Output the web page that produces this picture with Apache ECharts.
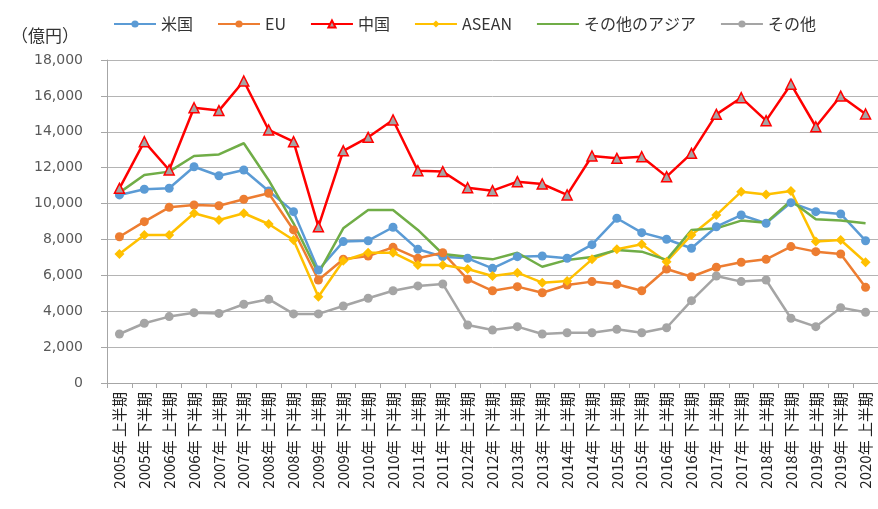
<!DOCTYPE html>
<html>
<head>
<meta charset="utf-8">
<script src="https://cdn.jsdelivr.net/npm/echarts@6/dist/echarts.min.js"></script>
<style>
  html, body { margin: 0; padding: 0; background: #fff; }
  #chart { width: 878px; height: 509px; }
</style>
</head>
<body>
<div id="chart"></div>
<script>
// half-year periods, 2005 H1 .. 2020 H1
const periods = [
  '2005年 上半期', '2005年 下半期', '2006年 上半期', '2006年 下半期',
  '2007年 上半期', '2007年 下半期', '2008年 上半期', '2008年 下半期',
  '2009年 上半期', '2009年 下半期', '2010年 上半期', '2010年 下半期',
  '2011年 上半期', '2011年 下半期', '2012年 上半期', '2012年 下半期',
  '2013年 上半期', '2013年 下半期', '2014年 上半期', '2014年 下半期',
  '2015年 上半期', '2015年 下半期', '2016年 上半期', '2016年 下半期',
  '2017年 上半期', '2017年 下半期', '2018年 上半期', '2018年 下半期',
  '2019年 上半期', '2019年 下半期', '2020年 上半期'
]

// values in 億円
const usa = [10480, 10800, 10850, 12050, 11550, 11870, 10700, 9550, 6300, 7880, 7930, 8680, 7450, 7040, 6950, 6390,
  7040, 7080, 6950, 7710, 9180, 8380, 8010, 7510, 8710, 9360, 8900, 10050, 9550, 9420, 7930]
const eu = [8150, 8990, 9790, 9920, 9880, 10240, 10570, 8530, 5740, 6900, 7080, 7560, 6950, 7260, 5780, 5140,
  5370, 5030, 5460, 5650, 5500, 5140, 6350, 5920, 6450, 6730, 6890, 7600, 7320, 7190, 5330]
const china = [10850, 13450, 11870, 15340, 15180, 16830, 14100, 13450, 8710, 12940, 13690, 14660, 11830, 11780, 10880, 10720,
  11220, 11090, 10480, 12650, 12520, 12610, 11500, 12800, 14970, 15900, 14620, 16650, 14280, 15990, 14990]
const asean = [7190, 8250, 8250, 9460, 9080, 9460, 8860, 7970, 4810, 6810, 7260, 7260, 6580, 6580, 6350, 5960,
  6150, 5590, 5680, 6890, 7450, 7730, 6760, 8250, 9360, 10660, 10510, 10700, 7880, 7970, 6730]
const otherAsia = [10610, 11590, 11780, 12650, 12740, 13360, 11300, 8900, 6110, 8620, 9640, 9640, 8530, 7190, 7040, 6890,
  7260, 6480, 6860, 7020, 7410, 7320, 6860, 8530, 8620, 9050, 8930, 10160, 9120, 9050, 8900]
const others = [2730, 3330, 3700, 3920, 3880, 4390, 4670, 3850, 3850, 4290, 4720, 5140, 5410, 5520, 3230, 2950,
  3140, 2730, 2800, 2800, 2990, 2800, 3080, 4590, 5960, 5650, 5740, 3610, 3140, 4200, 3940]

const yTicks = { min: 0, max: 18000, interval: 2000 }

const jp = '"Noto Sans CJK JP", "Noto Sans", sans-serif'

function line(name, data, color, symbol, size, extra) {
  return Object.assign({
    name: name,
    type: 'line',
    data: data,
    symbol: symbol,
    symbolSize: size,
    showSymbol: symbol !== 'none',
    lineStyle: { color: color, width: 2.5 },
    itemStyle: { color: color },
    emphasis: { disabled: true },
    animation: false
  }, extra || {})
}

const chart = echarts.init(document.getElementById('chart'))

chart.setOption({
  backgroundColor: '#fff',
  title: {
    text: '（億円）',
    left: 6,
    top: 22,
    textStyle: { fontFamily: jp, fontSize: 17, fontWeight: 'normal', color: '#333' }
  },
  legend: {
    left: 108,
    top: 11,
    itemWidth: 42,
    itemHeight: 9,
    itemGap: 24,
    textStyle: { fontFamily: jp, fontSize: 16, color: '#333' },
    data: [
      '米国', 'EU', '中国', 'ASEAN',
      // no marker on this series, so keep the legend icon a plain line
      { name: 'その他のアジア', itemStyle: { color: 'rgba(0,0,0,0)', borderWidth: 0 } },
      'その他'
    ]
  },
  grid: { left: 107, right: 0, top: 60, bottom: 126, containLabel: false },
  xAxis: {
    type: 'category',
    data: periods,
    boundaryGap: true,
    axisLine: { lineStyle: { color: '#A6A6A6', width: 1 } },
    axisTick: { show: true, interval: 0, length: 5, lineStyle: { color: '#A6A6A6' } },
    axisLabel: {
      interval: 0,
      rotate: 90,
      margin: 9,
      fontFamily: jp,
      fontSize: 15,
      color: '#222'
    },
    splitLine: { show: false }
  },
  yAxis: {
    type: 'value',
    min: yTicks.min,
    max: yTicks.max,
    interval: yTicks.interval,
    axisLine: { show: true, lineStyle: { color: '#A6A6A6', width: 1 } },
    axisTick: { show: true, length: 6, lineStyle: { color: '#A6A6A6' } },
    axisLabel: {
      margin: 24,
      fontFamily: '"DejaVu Sans", sans-serif',
      fontSize: 14,
      color: '#595959',
      formatter: v => v.toLocaleString('en-US')
    },
    splitLine: { lineStyle: { color: '#B4B4B4', width: 1 } }
  },
  series: [
    line('米国', usa, '#5B9BD5', 'circle', 9),
    line('EU', eu, '#ED7D31', 'circle', 9),
    line('中国', china, '#FF0000', 'triangle', 10, {
      itemStyle: { color: '#A5A5A5', borderColor: '#FF0000', borderWidth: 1.5 }
    }),
    line('ASEAN', asean, '#FFC000', 'diamond', 10),
    line('その他のアジア', otherAsia, '#70AD47', 'none', 0),
    line('その他', others, '#A5A5A5', 'circle', 9)
  ]
})
</script>
</body>
</html>
